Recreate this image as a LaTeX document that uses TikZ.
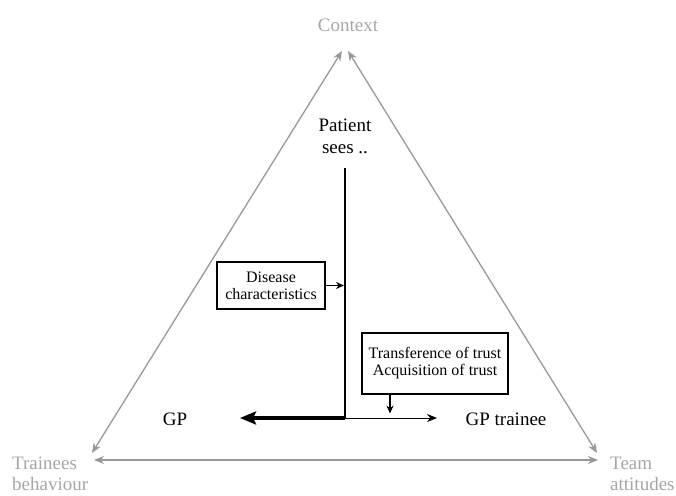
\documentclass[tikz,border=0pt]{standalone}
\usepackage{fontspec}
\setmainfont{Liberation Serif}
\usetikzlibrary{arrows.meta}

\begin{document}
\begin{tikzpicture}[x=1pt, y=-1pt,
    corner/.style={text=gray!70, font=\fontsize{19}{21}\selectfont, inner sep=0pt, align=left},
    side/.style={gray!80, line width=1.3pt, {Stealth[length=10pt,width=8pt]}-{Stealth[length=10pt,width=8pt]}},
    label/.style={font=\fontsize{19}{22}\selectfont, inner sep=0pt, align=center},
    factor/.style={draw, line width=1.1pt, font=\fontsize{16}{17}\selectfont, align=center}
  ]
    \useasboundingbox (0, 0) rectangle (676, 495);

    % the triangle
    \coordinate (topL) at (342, 51);
    \coordinate (topR) at (348, 51);
    \coordinate (botL) at (92, 453);
    \coordinate (botR) at (597, 453);
    \coordinate (baseL) at (94, 460);
    \coordinate (baseR) at (598, 460);
    \draw[side] (botL) -- (topL);
    \draw[side] (topR) -- (botR);
    \draw[side] (baseL) -- (baseR);

    \node[corner] (ctx) at (348, 25) {Context};
    \node[corner, anchor=west] (beh) at (12, 474) {Trainees\\behaviour};
    \node[corner, anchor=west] (team) at (610, 474) {Team\\attitudes};

    \node[label] (patient) at (345, 136) {Patient\\sees ..};
    \node[label] (gp) at (175, 419) {GP};
    \node[label] (trainee) at (506, 419) {GP trainee};

    \node[factor, minimum width=108pt, minimum height=47pt] (disease) at (271, 285.5)
      {Disease\\characteristics};
    \node[factor, minimum width=146pt, minimum height=61pt] (trust) at (435, 363.5)
      {Transference of trust\\Acquisition of trust};

    % the path of the patient
    \coordinate (start) at (345, 168);
    \coordinate (turn) at (345, 418);
    \coordinate (toGP) at (240, 418);
    \coordinate (toTrainee) at (437, 418);
    \draw[line width=1.6pt] (start) -- (turn);
    \draw[line width=4pt, -{Stealth[length=16pt,width=13pt,inset=3pt]}] (turn) -- (toGP);
    \draw[line width=0.9pt, -{Stealth[length=10pt,width=8pt]}] (turn) -- (toTrainee);

    \draw[line width=1.1pt, -{Stealth[length=8pt,width=7pt]}] (disease.east) -- ([xshift=-1pt]disease.east -| turn);
    \draw[line width=1.1pt, -{Stealth[length=8pt,width=7pt]}] ([xshift=-45pt]trust.south) -- ++(0, 19);
\end{tikzpicture}
\end{document}
